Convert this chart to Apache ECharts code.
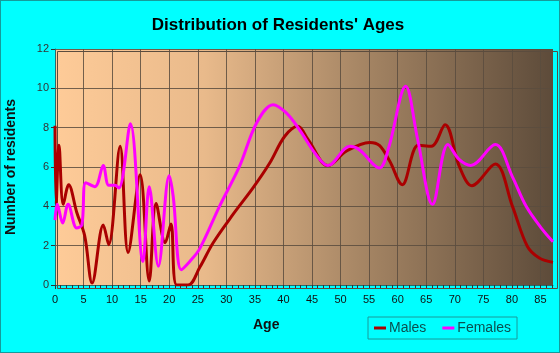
<!DOCTYPE html>
<html lang="en">
<head>
<meta charset="UTF-8">
<title>Distribution of Residents' Ages</title>
<style>
  html, body { margin: 0; padding: 0; background: #00ffff; }
  #chart { width: 560px; height: 353px; box-sizing: border-box; border: 1px solid #159b9b; }
</style>
</head>
<body>
<div id="chart"></div>
<script src="https://cdn.jsdelivr.net/npm/echarts@6/dist/echarts.min.js"></script>
<script>
// points: [age, residents]
var males = [
  [0, 8.1], [0.2, 4.1], [0.7, 7.1], [1.45, 4.1], [2.4, 5.1], [3.8, 3.7], [5.2, 2.5],
  [6.5, 0.1], [8.45, 3.05], [9.4, 2.05], [11.4, 7.05], [12.8, 1.65], [14.9, 5.6],
  [16.5, 0.2], [17.7, 4.15], [19.3, 2.15], [20.3, 3.1], [21.3, 0], [23.3, 0],
  [25.35, 0.9], [27.7, 2.15], [31.2, 3.6], [34.7, 4.95], [37.6, 6.2], [40.2, 7.55],
  [42.5, 8.07], [44.3, 7.4], [47.8, 6.07], [51, 6.8], [55.1, 7.25], [56.8, 7.1],
  [58.6, 6.3], [60.8, 5.1], [63.6, 7.1], [65.9, 7.05], [68.3, 8.15], [70.8, 6.03],
  [73, 5.05], [77.1, 6.15], [80.1, 4.0], [82.7, 1.97], [84.8, 1.37], [87.2, 1.15]
];
var females = [
  [0, 3.3], [0.4, 4.1], [1.35, 3.15], [2.3, 4.1], [3.8, 2.9], [4.7, 3.05], [5.4, 5.2],
  [7, 5.0], [8.45, 6.07], [9.4, 5.07], [10.5, 5.07], [11.2, 4.93], [13.2, 8.2],
  [15.4, 1.2], [16.5, 5.0], [18.1, 0.95], [20, 5.56], [20.7, 4.5], [22.1, 0.78],
  [23.6, 1.2], [25.35, 1.85], [28.8, 4.0], [32.3, 6.03], [35.3, 8.24], [38.2, 9.17],
  [40.5, 8.75], [42.8, 7.9], [45.7, 6.63], [47.8, 6.07], [51.6, 7.05], [53.3, 6.88],
  [56.8, 5.95], [58.4, 6.95], [61.4, 10.1], [63.5, 7.4], [66.1, 4.1], [68.8, 7.14],
  [70.8, 6.37], [72.8, 6.08], [77.1, 7.14], [80.1, 5.5], [82.5, 4.0], [85.4, 2.8],
  [87.2, 2.2]
];
var xTicks = [0, 5, 10, 15, 20, 25, 30, 35, 40, 45, 50, 55, 60, 65, 70, 75, 80, 85];
var yTicks = [0, 2, 4, 6, 8, 10, 12];

var chart = echarts.init(document.getElementById('chart'), null, { renderer: 'canvas' });

var gridLine = { show: true, lineStyle: { color: '#5b4c3e', width: 1, opacity: 0.85 } };

var option = {
  backgroundColor: '#00ffff',
  animation: false,
  title: {
    text: "Distribution of Residents' Ages",
    left: 272, top: 11, textAlign: 'center',
    textStyle: { fontFamily: 'Liberation Sans, Arial', fontSize: 17, fontWeight: 'bold', color: '#000' }
  },
  legend: {
    left: 367, top: 316, width: 155, height: 22,
    padding: [4, 6, 4, 6],
    itemGap: 16,
    itemWidth: 12, itemHeight: 3,
    icon: 'rect',
    borderColor: '#189a9a', borderWidth: 1,
    textStyle: { fontFamily: 'Liberation Sans, Arial', fontSize: 14, color: '#0b4f4f', padding: [0, 0, 0, -2] },
    data: ['Males', 'Females']
  },
  grid: {
    left: 54, right: 6, top: 48, bottom: 67,
    outerBoundsMode: 'none',
    containLabel: false,
    show: true,
    borderWidth: 0,
    backgroundColor: {
      type: 'linear', x: 0, y: 0, x2: 1, y2: 0,
      colorStops: [
        { offset: 0, color: '#fecb98' },
        { offset: 0.3, color: '#e9ba8b' },
        { offset: 0.6, color: '#a98866' },
        { offset: 1, color: '#5d4b3a' }
      ]
    }
  },
  xAxis: {
    type: 'value', min: 0, max: 87.2, interval: 5,
    axisLine: { show: true, lineStyle: { color: '#2a6a6a', width: 1 } },
    axisTick: { show: true, length: 4, lineStyle: { color: '#333' }, customValues: xTicks },
    minorTick: { show: true, splitNumber: 5, length: 3, lineStyle: { color: '#333' } },
    axisLabel: {
      margin: 9, fontFamily: 'Liberation Sans, Arial', fontSize: 11, color: '#111',
      customValues: xTicks, formatter: function (v) { return v; }
    },
    splitLine: gridLine
  },
  yAxis: {
    type: 'value', min: 0, max: 12, interval: 2,
    name: 'Number of residents', nameLocation: 'middle', nameGap: 37,
    nameTextStyle: { fontFamily: 'Liberation Sans, Arial', fontSize: 14, fontWeight: 'bold', color: '#111' },
    axisLine: { show: true, lineStyle: { color: '#2a6a6a', width: 1 } },
    axisTick: { show: true, length: 4, lineStyle: { color: '#333' } },
    axisLabel: { margin: 6, fontFamily: 'Liberation Sans, Arial', fontSize: 11, color: '#333',
      customValues: yTicks },
    splitLine: gridLine
  },
  graphic: [
    {
      type: 'text', left: 252, top: 317, silent: true,
      style: { text: 'Age', font: 'bold 14px "Liberation Sans", Arial', fill: '#111' }
    },
    {
      type: 'rect', silent: true, z: 1, left: 54, top: 48,
      shape: { width: 500, height: 237 },
      style: { fill: 'none', stroke: '#5b4c3e', lineWidth: 1 }
    }
  ],
  series: [
    {
      name: 'Males', type: 'line', data: males, smooth: 0.35,
      showSymbol: false, clip: true, z: 3,
      itemStyle: { color: '#aa0000' },
      lineStyle: { color: '#aa0000', width: 3 }
    },
    {
      name: 'Females', type: 'line', data: females, smooth: 0.35,
      showSymbol: false, clip: true, z: 4,
      itemStyle: { color: '#ff00ff' },
      lineStyle: { color: '#ff00ff', width: 3 }
    }
  ]
};

chart.setOption(option);
window.addEventListener('resize', chart.resize);
</script>
</body>
</html>
